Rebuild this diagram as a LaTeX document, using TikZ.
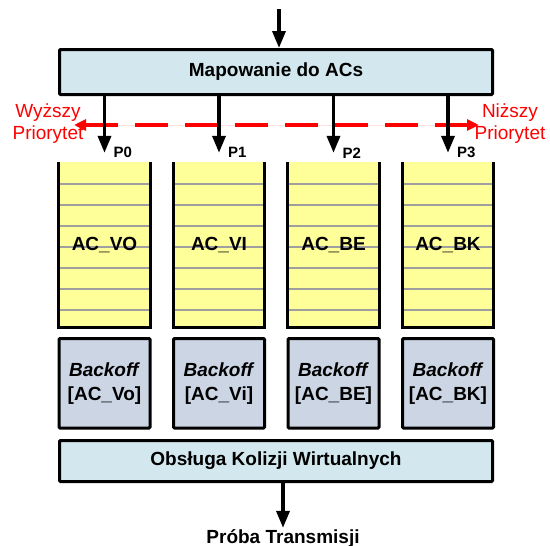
\documentclass[tikz,border=0pt]{standalone}
\usepackage{fontspec}
\setmainfont{Liberation Sans}
\usetikzlibrary{arrows.meta,calc}

\definecolor{mapblue}{RGB}{210,232,238}
\definecolor{queueyellow}{RGB}{255,255,153}
\definecolor{boffgray}{RGB}{203,213,228}
\definecolor{prired}{RGB}{255,0,0}

\begin{document}
\begin{tikzpicture}[x=1pt,y=-1pt,
  bigbox/.style={draw,line width=3pt,fill=mapblue,rounded corners=1pt,
    minimum width=433pt,inner sep=0pt,font=\fontsize{19}{23}\selectfont\bfseries},
  queue/.style={fill=queueyellow,minimum width=91pt,minimum height=165.5pt,inner sep=0pt,
    font=\fontsize{19}{23}\selectfont\bfseries,
    path picture={
      \foreach \k in {22,43,64,85,106,127,148}
        \draw[gray!75,line width=1.3pt]
          ([yshift=-\k pt]path picture bounding box.north west) --
          ([yshift=-\k pt]path picture bounding box.north east);
    }},
  qborder/.style={line width=3pt,line join=miter},
  boff/.style={draw,line width=3pt,fill=boffgray,rounded corners=1pt,
    minimum width=91pt,minimum height=89.5pt,inner sep=0pt,align=center,
    font=\fontsize{19}{24}\selectfont\bfseries},
  arr/.style={-{Triangle[length=17pt,width=13pt]},line width=3.5pt},
  plabel/.style={anchor=west,inner sep=0pt,font=\fontsize{15}{18}\selectfont\bfseries},
  prio/.style={text=prired,align=center,inner sep=0pt,font=\fontsize{19}{22}\selectfont},
  prioline/.style={{Triangle[length=12pt,width=11pt]}-{Triangle[length=12pt,width=11pt]},
    draw=prired,fill=prired,line width=3.8pt,dash pattern=on 33pt off 17pt},
]
  \useasboundingbox (0,0) rectangle (550,546);

  % mapping and collision boxes
  \node[bigbox,minimum height=45pt] (map) at (276,72) {Mapowanie do ACs};
  \node[bigbox,minimum height=41pt] (kol) at (276,461) {Obsługa Kolizji Wirtualnych};

  % priority hint
  \node[prio] (hi) at (48,124) {Wyższy\\Priorytet};
  \node[prio] (lo) at (510,124) {Niższy\\Priorytet};
  \coordinate (hl) at (74,125);
  \coordinate (ll) at (479,125);
  \draw[prioline] (hl) -- (ll);

  % queues and backoff per AC
  \foreach \i/\qname/\bname in {0/VO/Vo,1/VI/Vi,2/BE/BE,3/BK/BK} {
    \node[queue] (q\i) at (104.5+114.5*\i,244.75) {AC\_\qname};
    \draw[qborder] (q\i.north west) -- (q\i.south west) -- (q\i.south east) -- (q\i.north east);
    \node[boff] (bo\i) at (104.5+114.5*\i,383.25) {\textit{Backoff}\\{[AC\_\bname]}};
    \draw[arr] (map.south -| q\i.north) -- ([yshift=9pt]q\i.north);
    \node[plabel] (p\i) at ([xshift=9pt,yshift=9pt]q\i.north) {P\i};
  }

  % in and out
  \coordinate (src) at (279,9);
  \draw[arr] (src) -- (src |- map.north);
  \node[inner sep=0pt,anchor=base,font=\fontsize{19}{23}\selectfont\bfseries] (tx) at (283,543) {Próba Transmisji};
  \draw[arr] (kol.south -| tx.north) -- ([yshift=1pt]tx.north);
\end{tikzpicture}
\end{document}
